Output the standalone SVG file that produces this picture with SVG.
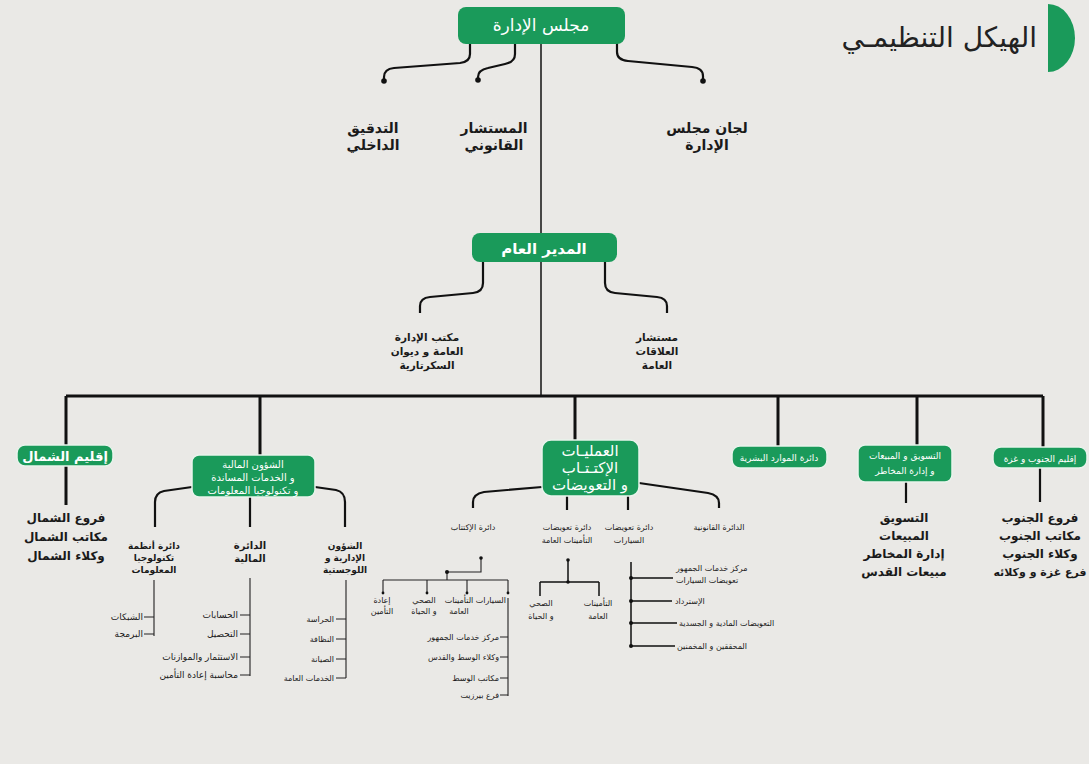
<svg xmlns="http://www.w3.org/2000/svg" width="1089" height="764" viewBox="0 0 1089 764">
<style>
text{font-family:"DejaVu Sans","Noto Sans",sans-serif;fill:#1a1a1a;text-anchor:middle}
.title{font-size:28px;text-anchor:end;fill:#222}
.wt{fill:#fff}
.b{font-weight:bold}
.f16{font-size:14px}
.f14{font-size:12px}
.f12{font-size:10.5px}
.f11{font-size:10px}
.f10{font-size:9px}
.f9{font-size:8px}
.e{text-anchor:end}
.s{text-anchor:start}
.box{fill:#1a9a5a;stroke:#e9f3ec;stroke-width:1.5}
.boxt{fill:#1a9a5a}
.c3{fill:none;stroke:#111;stroke-width:3}
.c2{fill:none;stroke:#111;stroke-width:2.2}
.c15{fill:none;stroke:#111;stroke-width:1.5}
.c1{fill:none;stroke:#222;stroke-width:1.1}
.dot{fill:#111}
</style>
<rect width="1089" height="764" fill="#eae9e6"/>
<g id="title">
<path d="M1048,4 A27,34 0 0 1 1048,72 Z" fill="#1a9a5a"/>
<text class="title" x="1037" y="47">الهيكل التنظيمـي</text>
</g>
<g id="connectors">
<path class="c15" d="M541,43 V396"/>
<path class="c2" d="M470,43 V54 Q470,62 460,63 L394,68 Q384,69 384,77 V81"/>
<path class="c2" d="M515,43 V54 Q515,62 505,64 L488,68 Q478,70 478,77 V80"/>
<path class="c2" d="M617,43 V52 Q617,60 628,61 L692,67 Q703,68 703,76 V81"/>
<circle class="dot" cx="384" cy="81" r="2.8"/>
<circle class="dot" cx="478" cy="80" r="2.8"/>
<circle class="dot" cx="703" cy="81" r="2.8"/>
<path class="c2" d="M483,262 V283 Q483,292 473,293 L430,297 Q420,298 420,306 V313"/>
<path class="c2" d="M605,262 V283 Q605,292 615,293 L657,297 Q667,298 667,306 V313"/>
<path class="c3" d="M66,396 H1043 M66,396 V447 M260,396 V455 M575,396 V440 M778,396 V446 M917,396 V445 M1043,396 V447"/>
<path class="c3" d="M66,466 V505"/>
<path class="c2" d="M192,487 L164,491 Q155,493 155,502 V527 M250,497 V527 M315,487 L336,490 Q345,492 345,502 V527"/>
<path class="c1" d="M154,580 V636 M144,617 H154 M144,634 H154"/>
<path class="c1" d="M250,578 V676 M240,615 H250 M240,634 H250 M240,657 H250 M240,675 H250"/>
<path class="c1" d="M346,580 V678 M336,619 H346 M336,639 H346 M336,659 H346 M336,678 H346"/>
<path class="c2" d="M542,487 L484,492 Q473,494 473,502 V508 M639,483 L708,493 Q719,495 719,503 V508 M567,496 V510 M628,496 V510"/>
<path class="c1" d="M481,558 V572 H447 V580 M383,580 H508 M383,580 V593 M427,580 V593 M467,580 V593 M508,580 V593"/>
<circle class="dot" cx="481" cy="558" r="1.8"/><circle class="dot" cx="447" cy="572" r="2"/>
<circle class="dot" cx="383" cy="593" r="1.4"/><circle class="dot" cx="427" cy="593" r="1.4"/><circle class="dot" cx="467" cy="593" r="1.4"/><circle class="dot" cx="508" cy="593" r="1.4"/>
<path class="c1" d="M508,598 V696 M500,637 H508 M500,657 H508 M500,678 H508 M500,695 H508"/>
<path class="c15" d="M568,560 V582 M540,582 H599 M540,582 V596 M599,582 V596"/>
<circle class="dot" cx="568" cy="560" r="1.8"/><circle class="dot" cx="568" cy="582" r="1.8"/>
<path class="c15" d="M631,562 V647 M631,578 H673 M631,601 H672 M631,623 H677 M631,646 H675"/>
<circle class="dot" cx="631" cy="578" r="2"/><circle class="dot" cx="631" cy="601" r="2"/><circle class="dot" cx="631" cy="623" r="2"/><circle class="dot" cx="631" cy="646" r="2"/>
<path class="c2" d="M906,482 V503 M1040,468 V502"/>
</g>
<g id="board">
<rect class="boxt" x="458" y="7" width="167" height="37" rx="8"/>
<text class="wt" x="541" y="31" style="font-size:17px">مجلس الإدارة</text>
</g>
<g id="audit"><text class="b f16" x="373" y="133">التدقيق</text><text class="b f16" x="373" y="150">الداخلي</text></g>
<g id="legal-advisor"><text class="b f16" x="494" y="133">المستشار</text><text class="b f16" x="494" y="150">القانوني</text></g>
<g id="committees"><text class="b f16" x="707" y="133">لجان مجلس</text><text class="b f16" x="707" y="150">الإدارة</text></g>
<g id="gm">
<rect class="boxt" x="472" y="233" width="145" height="29" rx="8"/>
<text class="wt b" x="544" y="254" style="font-size:15px">المدير العام</text>
</g>
<g id="gm-office"><text class="b f12" x="427" y="341">مكتب الإدارة</text><text class="b f12" x="427" y="355">العامة و ديوان</text><text class="b f12" x="427" y="369">السكرتارية</text></g>
<g id="pr"><text class="b f12" x="657" y="341">مستشار</text><text class="b f12" x="657" y="355">العلاقات</text><text class="b f12" x="657" y="369">العامة</text></g>
<g id="north">
<rect class="box" x="17" y="445" width="96" height="21" rx="8"/>
<text class="wt b" x="65" y="461" style="font-size:13px">إقليم الشمال</text>
<text class="b f14" x="66" y="522">فروع الشمال</text>
<text class="b f14" x="66" y="541">مكاتب الشمال</text>
<text class="b f14" x="66" y="560">وكلاء الشمال</text>
</g>
<g id="finance">
<rect class="box" x="192" y="455" width="123" height="42" rx="7"/>
<text class="wt f11" x="253" y="468">الشؤون المالية</text>
<text class="wt f11" x="253" y="481">و الخدمات المساندة</text>
<text class="wt f11" x="253" y="494">و تكنولوجيا المعلومات</text>
</g>
<g id="it">
<text class="b f10" x="154" y="549">دائرة أنظمة</text><text class="b f10" x="154" y="561">تكنولوجيا</text><text class="b f10" x="154" y="573">المعلومات</text>
<text class="f10 e" x="143" y="620">الشبكات</text><text class="f10 e" x="143" y="637">البرمجة</text>
</g>
<g id="fin-dept">
<text class="b f11" x="250" y="549">الدائرة</text><text class="b f11" x="250" y="562">المالية</text>
<text class="f10 e" x="238" y="618">الحسابات</text><text class="f10 e" x="238" y="637">التحصيل</text><text class="f10 e" x="238" y="660">الاستثمار والموازنات</text><text class="f10 e" x="238" y="678">محاسبة إعادة التأمين</text>
</g>
<g id="admin">
<text class="b f10" x="345" y="549">الشؤون</text><text class="b f10" x="345" y="561">الإدارية و</text><text class="b f10" x="345" y="573">اللوجستية</text>
<text class="f9 e" x="334" y="622">الحراسة</text><text class="f9 e" x="334" y="642">النظافة</text><text class="f9 e" x="334" y="662">الصيانة</text><text class="f9 e" x="334" y="681">الخدمات العامة</text>
</g>
<g id="operations">
<rect class="box" x="542" y="440" width="97" height="56" rx="9"/>
<text class="wt" x="590" y="456" style="font-size:15px">العمليـات</text>
<text class="wt" x="590" y="473" style="font-size:15px">الإكتـتـاب</text>
<text class="wt" x="590" y="490" style="font-size:15px">و التعويضات</text>
</g>
<g id="underwriting">
<text class="f9" x="473" y="530">دائرة الإكتتاب</text>
<text class="f9" x="382" y="603">إعادة</text><text class="f9" x="382" y="614">التأمين</text>
<text class="f9" x="424" y="603">الصحي</text><text class="f9" x="424" y="614">و الحياة</text>
<text class="f9" x="459" y="603">التأمينات</text><text class="f9" x="459" y="614">العامة</text>
<text class="f9 e" x="506" y="603">السيارات</text>
<text class="f9 e" x="499" y="640">مركز خدمات الجمهور</text>
<text class="f9 e" x="499" y="660">وكلاء الوسط والقدس</text>
<text class="f9 e" x="499" y="681">مكاتب الوسط</text>
<text class="f9 e" x="499" y="698">فرع بيرزيت</text>
</g>
<g id="gen-claims">
<text class="f9" x="567" y="530">دائرة تعويضات</text><text class="f9" x="567" y="543">التأمينات العامة</text>
<text class="f9" x="541" y="606">الصحي</text><text class="f9" x="541" y="619">و الحياة</text>
<text class="f9" x="598" y="606">التأمينات</text><text class="f9" x="598" y="619">العامة</text>
</g>
<g id="motor-claims">
<text class="f9" x="629" y="530">دائرة تعويضات</text><text class="f9" x="629" y="543">السيارات</text>
<text class="f9 s" x="676" y="571">مركز خدمات الجمهور</text><text class="f9 s" x="676" y="583">تعويضات السيارات</text>
<text class="f9 s" x="675" y="604">الإسترداد</text>
<text class="f9 s" x="679" y="626">التعويضات المادية و الجسدية</text>
<text class="f9 s" x="677" y="649">المحققين و المخمنين</text>
</g>
<g id="legal-dept"><text class="f9" x="719" y="530">الدائرة القانونية</text></g>
<g id="hr">
<rect class="box" x="732" y="446" width="95" height="22" rx="8"/>
<text class="wt f10" x="779" y="461">دائرة الموارد البشرية</text>
</g>
<g id="marketing">
<rect class="box" x="858" y="445" width="94" height="37" rx="7"/>
<text class="wt f10" x="905" y="459">التسويق و المبيعات</text>
<text class="wt f10" x="905" y="474">و إدارة المخاطر</text>
<text class="b f14" x="904" y="522">التسويق</text>
<text class="b f14" x="904" y="540">المبيعات</text>
<text class="b f14" x="904" y="558">إدارة المخاطر</text>
<text class="b f14" x="904" y="576">مبيعات القدس</text>
</g>
<g id="south">
<rect class="box" x="993" y="447" width="94" height="21" rx="8"/>
<text class="wt f10" x="1040" y="462">إقليم الجنوب و غزة</text>
<text class="b f14" x="1040" y="522">فروع الجنوب</text>
<text class="b f14" x="1040" y="540">مكاتب الجنوب</text>
<text class="b f14" x="1040" y="558">وكلاء الجنوب</text>
<text class="b f14" x="1040" y="576" style="font-size:11px">فرع غزة و وكلائه</text>
</g>
</svg>
